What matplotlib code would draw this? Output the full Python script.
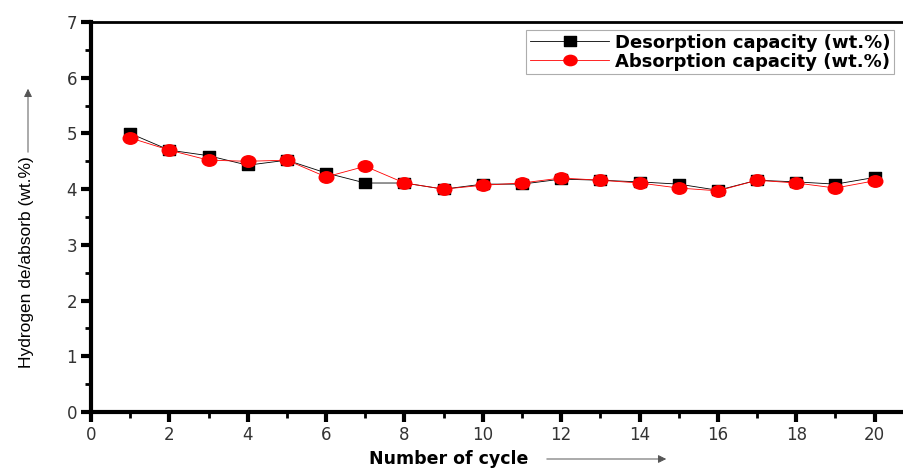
import numpy as np
import matplotlib
matplotlib.use("Agg")
import matplotlib.pyplot as plt
from matplotlib.ticker import MultipleLocator
from matplotlib.path import Path
from matplotlib.transforms import Affine2D

plt.rcParams['font.family'] = ['DejaVu Sans']

# data
cycles = list(range(1, 21))
desorption = [5.00, 4.70, 4.60, 4.43, 4.52, 4.29, 4.11, 4.11, 4.00, 4.09,
              4.09, 4.18, 4.16, 4.13, 4.09, 3.98, 4.16, 4.13, 4.09, 4.21]
absorption = [4.92, 4.70, 4.52, 4.50, 4.52, 4.22, 4.41, 4.11, 4.00, 4.07,
              4.11, 4.20, 4.16, 4.11, 4.02, 3.97, 4.16, 4.11, 4.02, 4.15]
x_ticks = [0, 2, 4, 6, 8, 10, 12, 14, 16, 18, 20]
y_ticks = [0, 1, 2, 3, 4, 5, 6, 7]

# the original is a bit stretched sideways, so markers are wider than tall
sq = Path([(-1.2, -1), (1.2, -1), (1.2, 1), (-1.2, 1), (-1.2, -1)],
          [Path.MOVETO, Path.LINETO, Path.LINETO, Path.LINETO, Path.CLOSEPOLY])
ell = Path.unit_circle().transformed(Affine2D().scale(1.27, 1))

fig = plt.figure(figsize=(9.04, 4.68), dpi=100)
# axes runs well past the right edge, like the cropped original
ax = fig.add_axes([91 / 904, 56 / 468, 862 / 904, 390 / 468])

ax.plot(cycles, desorption, color='black', linewidth=0.6, marker=sq,
        markersize=9, label='Desorption capacity (wt.%)')
ax.plot(cycles, absorption, color='red', linewidth=0.6, marker=ell,
        markersize=10.5, label='Absorption capacity (wt.%)')

ax.set_xlim(0, 22)
ax.set_ylim(0, 7)
ax.set_xticks(x_ticks)
ax.set_yticks(y_ticks)
ax.xaxis.set_minor_locator(MultipleLocator(1))
ax.yaxis.set_minor_locator(MultipleLocator(0.5))

ax.spines['left'].set_linewidth(3)
ax.spines['bottom'].set_linewidth(3)
ax.spines['top'].set_linewidth(2)
ax.spines['right'].set_visible(False)
ax.tick_params(which='major', direction='out', length=7, width=3,
               labelsize=12, colors='black', labelcolor='#333333', pad=3)
ax.tick_params(which='minor', direction='out', length=4, width=2)
ax.tick_params(top=False, right=False, which='both')

leg = ax.legend(loc='upper right', bbox_to_anchor=(894 / 904, 438 / 468),
                bbox_transform=fig.transFigure, fancybox=False,
                edgecolor='#999999', handlelength=4.4, markerscale=0.9,
                borderpad=0.2, labelspacing=0.05, handletextpad=0.3,
                borderaxespad=0, prop={'weight': 'bold', 'size': 13})
leg.get_frame().set_linewidth(0.8)

# axis labels with arrows
fig.text(449 / 904, 1 - 464 / 468, 'Number of cycle', ha='center',
         va='baseline', fontsize=12.5, fontweight='bold')
ax.annotate('', xy=(669 / 904, 1 - 459 / 468), xytext=(544 / 904, 1 - 459 / 468),
            xycoords='figure fraction', textcoords='figure fraction',
            annotation_clip=False,
            arrowprops=dict(arrowstyle='-|>', color='#555555', lw=0.7,
                            mutation_scale=12))
fig.text(27 / 904, 1 - 262 / 468, 'Hydrogen de/absorb (wt.%)', rotation=90,
         ha='center', va='center', fontsize=12.5, family='Liberation Sans')
ax.annotate('', xy=(28 / 904, 1 - 86 / 468), xytext=(28 / 904, 1 - 155 / 468),
            xycoords='figure fraction', textcoords='figure fraction',
            annotation_clip=False,
            arrowprops=dict(arrowstyle='-|>', color='#555555', lw=0.7,
                            mutation_scale=12))

fig.savefig('out.png', dpi=100)
